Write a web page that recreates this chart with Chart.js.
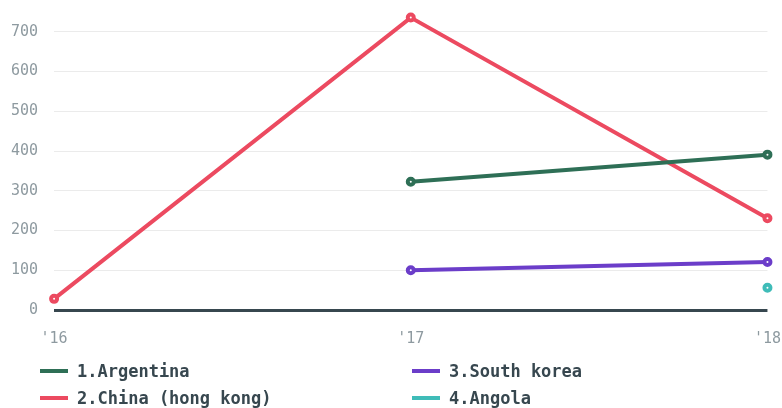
<!DOCTYPE html>
<html>
<head>
<meta charset="utf-8">
<script src="https://cdn.jsdelivr.net/npm/chart.js@4/dist/chart.umd.min.js"></script>
<style>
  html, body { margin: 0; padding: 0; background: #fff; overflow: hidden; }
  #wrap { position: absolute; left: -5px; top: -13px; width: 806px; height: 381px; }
  #legend {
    position: absolute;
    left: 40px;
    top: 362px;
    display: grid;
    grid-template-columns: 372px 372px;
    row-gap: 9px;
    font: bold 17px "DejaVu Sans Mono", monospace;
    color: #37474f;
  }
  #legend .item { display: flex; align-items: center; height: 18px; }
  #legend .swatch { width: 28px; height: 4px; margin-right: 9px; }
</style>
</head>
<body>
<div id="wrap"><canvas id="chart"></canvas></div>
<div id="legend"></div>
<script>
// --- data ---
const years = ["'16", "'17", "'18"];
const argentina = [null, 323, 391];
const china = [28, 736, 231];
const southKorea = [null, 100, 121];
const angola = [null, null, 56];

const names = ['1.Argentina', '2.China (hong kong)', '3.South korea', '4.Angola'];
const colors = ['#2e6f56', '#ec4a60', '#6b3dc9', '#3fbcb8'];
const series = [argentina, china, southKorea, angola];

const grey = '#8e9aa0';
const dark = '#37474f';

function makeDataset(i) {
    return {
        label: names[i],
        data: series[i],
        borderColor: colors[i],
        backgroundColor: colors[i],
        borderWidth: 4,
        pointRadius: 3,
        pointBorderWidth: 4,
        pointBackgroundColor: '#fff',
        pointBorderColor: colors[i],
        tension: 0,
        spanGaps: false
    };
}

const ctx = document.getElementById('chart').getContext('2d');
const chart = new Chart(ctx, {
    type: 'line',
    data: {
        labels: years,
        datasets: series.map((s, i) => makeDataset(i))
    },
    options: {
        responsive: true,
        maintainAspectRatio: false,
        animation: false,
        layout: { padding: { top: 0, right: 0, left: 0 } },
        plugins: {
            legend: { display: false },
            tooltip: { enabled: false }
        },
        scales: {
            x: {
                grid: { display: false, drawTicks: false },
                border: { display: false },
                ticks: {
                    color: grey,
                    padding: 20,
                    maxRotation: 0,
                    font: { family: '"DejaVu Sans Mono", monospace', size: 15 }
                }
            },
            y: {
                min: 0,
                max: 750,
                afterBuildTicks: (axis) => {
                    axis.ticks = axis.ticks.filter(t => t.value % 100 === 0);
                },
                grid: {
                    drawTicks: false,
                    color: (c) => c.tick && c.tick.value === 0 ? dark : '#ebebeb',
                    lineWidth: (c) => c.tick && c.tick.value === 0 ? 3 : 1
                },
                border: { display: false },
                ticks: {
                    stepSize: 100,
                    color: grey,
                    padding: 16,
                    font: { family: '"DejaVu Sans Mono", monospace', size: 15 }
                }
            }
        }
    }
});

// two-column legend built from the chart's own legend items
const legendEl = document.getElementById('legend');
const items = chart.options.plugins.legend.labels.generateLabels(chart);
const order = [0, 2, 1, 3];
order.forEach(i => {
    const it = items[i];
    const div = document.createElement('div');
    div.className = 'item';
    div.innerHTML = '<span class="swatch" style="background:' + it.strokeStyle + '"></span>' + it.text;
    legendEl.appendChild(div);
});
</script>
</body>
</html>
